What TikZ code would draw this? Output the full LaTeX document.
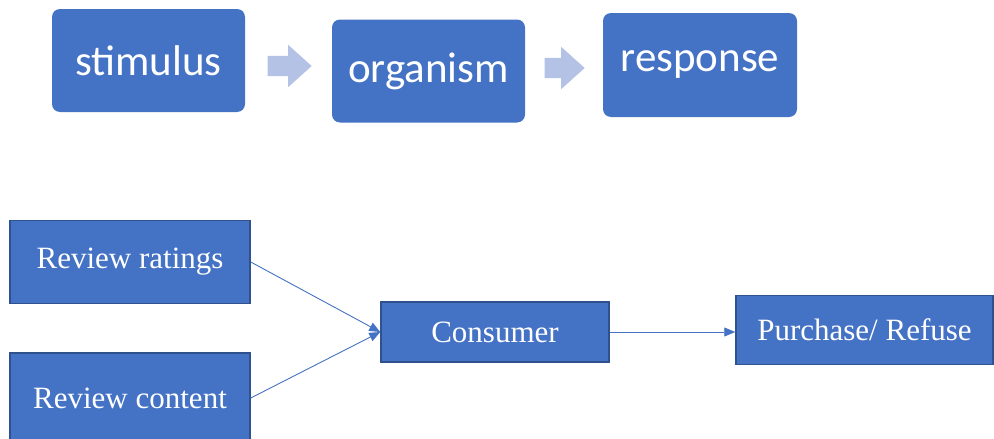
\documentclass[tikz,border=0pt]{standalone}
\usepackage{fontspec}
\setmainfont{Liberation Serif}
\newfontfamily\calibri{Carlito}
\usetikzlibrary{shapes.arrows,arrows.meta,positioning}
\definecolor{boxblue}{HTML}{4472C4}
\definecolor{edgeblue}{HTML}{2F528F}
\definecolor{arrowgray}{HTML}{B4C2E6}

\begin{document}
\begin{tikzpicture}[x=1pt,y=-1pt,
    sorbox/.style={fill=boxblue,rounded corners=8pt,text=white,inner sep=0pt,
        minimum width=193pt,minimum height=103pt,font=\calibri\fontsize{43}{43}\selectfont},
    blockarrow/.style={single arrow,fill=arrowgray,inner xsep=0pt,inner ysep=10pt,
        single arrow head extend=11pt,single arrow tip angle=84},
    revbox/.style={fill=boxblue,draw=edgeblue,line width=1.5pt,text=white,inner sep=0pt,
        font=\fontsize{31}{31}\selectfont},
    link/.style={draw=boxblue,line width=0.9pt,-{Triangle[length=11pt,width=9pt]}}]
    \useasboundingbox (0,0) rectangle (994,439);

    % S-O-R
    \node[sorbox] (stim) at (148.5,60.5) {stimulus};
    \node[sorbox] (org) at (428.5,71) {organism};
    \node[sorbox,minimum width=194pt,minimum height=104pt] (resp) at (700,65) {response};
    \node[blockarrow,minimum height=44pt] (arr1) at (284,66) {};
    \node[blockarrow,minimum height=40pt] (arr2) at (559,68) {};

    % review model
    \node[revbox,minimum width=240pt,minimum height=83pt] (rat) at (130,262) {Review ratings};
    \node[revbox,minimum width=240pt,minimum height=90pt] (cont) at (130,398) {Review content};
    \node[revbox,minimum width=228pt,minimum height=60pt] (cons) at (495,332) {Consumer};
    \node[revbox,minimum width=257pt,minimum height=69pt] (pur) at (864.5,330) {Purchase/ Refuse};

    \draw[link] (rat.east) -- (cons.west);
    \draw[link] (cont.east) -- (cons.west);
    \draw[link] (cons.east) -- (cons.east -| pur.west);
\end{tikzpicture}
\end{document}
